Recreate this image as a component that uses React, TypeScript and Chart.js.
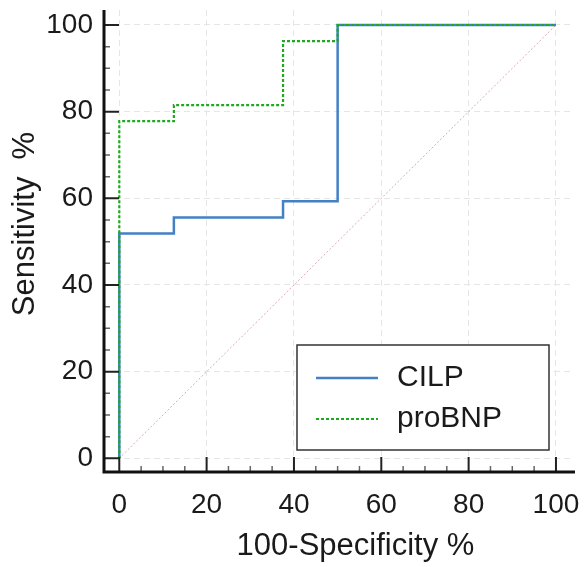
import React, { useEffect, useRef } from "react";
import { Chart, registerables } from "chart.js";

Chart.register(...registerables);

// ROC corner points (100-Specificity %, Sensitivity %)
const cilpX = [0, 0, 12.5, 12.5, 37.5, 37.5, 50, 50, 100];
const cilpY = [0, 51.9, 51.9, 55.6, 55.6, 59.3, 59.3, 100, 100];
const probnpX = [0, 0, 12.5, 12.5, 37.5, 37.5, 50, 50, 100];
const probnpY = [0, 77.8, 77.8, 81.5, 81.5, 96.3, 96.3, 100, 100];
const refX = [0, 100];
const refY = [0, 100];
const tickValues = [0, 20, 40, 60, 80, 100];
const minorStep = 5;
const seriesNames = ["CILP", "proBNP"];
const xTitle = "100-Specificity %";
const yTitle = "Sensitivity  %";

const FONT = "'Liberation Sans', Arial, Helvetica, sans-serif";
const TEXT = "#1a1a1a";

const toPoints = (xs: number[], ys: number[]) => xs.map((x, i) => ({ x, y: ys[i] }));

const axesPlugin = {
  id: "rocAxes",
  afterDraw(chart: any) {
    const { ctx, chartArea, scales } = chart;
    const xs = scales.x;
    const ys = scales.y;
    const left = chartArea.left;
    const bottom = chartArea.bottom;
    ctx.save();
    // ticks (inward)
    for (let v = 0; v <= 100; v += minorStep) {
      const major = v % 20 === 0;
      const len = major ? 15 : 6;
      ctx.beginPath();
      ctx.lineWidth = major ? 2 : 1.5;
      ctx.strokeStyle = major ? "#222" : "#666";
      const px = xs.getPixelForValue(v);
      ctx.moveTo(px, bottom);
      ctx.lineTo(px, bottom - len);
      const py = ys.getPixelForValue(v);
      ctx.moveTo(left, py);
      ctx.lineTo(left + len, py);
      ctx.stroke();
    }
    // axis lines
    ctx.beginPath();
    ctx.lineWidth = 3;
    ctx.strokeStyle = "#111";
    ctx.moveTo(left, chartArea.top);
    ctx.lineTo(left, bottom);
    ctx.lineTo(chartArea.right + 2, bottom);
    ctx.stroke();

    // axis titles
    ctx.fillStyle = TEXT;
    ctx.font = `31px ${FONT}`;
    ctx.textAlign = "center";
    ctx.textBaseline = "middle";
    const cx = (chartArea.left + chartArea.right) / 2 + 17;
    ctx.fillText(xTitle, cx, 546);
    const cy = (chartArea.top + chartArea.bottom) / 2 - 17;
    ctx.translate(25, cy);
    ctx.rotate(-Math.PI / 2);
    ctx.fillText(yTitle, 0, 0);
    ctx.restore();
  },
};

const legendPlugin = {
  id: "rocLegend",
  afterDraw(chart: any) {
    const { ctx, chartArea } = chart;
    const w = 252;
    const h = 105;
    const x0 = chartArea.right - 24 - w;
    const y0 = chartArea.bottom - 22 - h;
    ctx.save();
    ctx.fillStyle = "#ffffff";
    ctx.fillRect(x0, y0, w, h);
    ctx.lineWidth = 1.5;
    ctx.strokeStyle = "#333";
    ctx.strokeRect(x0, y0, w, h);
    const rows = [33, 74];
    seriesNames.forEach((name, i) => {
      const ds = chart.data.datasets[i];
      const ry = y0 + rows[i];
      ctx.beginPath();
      ctx.lineWidth = ds.borderWidth;
      ctx.strokeStyle = ds.borderColor;
      ctx.setLineDash(ds.borderDash || []);
      ctx.moveTo(x0 + 19, ry);
      ctx.lineTo(x0 + 81, ry);
      ctx.stroke();
      ctx.setLineDash([]);
      ctx.fillStyle = TEXT;
      ctx.font = `30px ${FONT}`;
      ctx.textBaseline = "middle";
      ctx.textAlign = "left";
      ctx.fillText(name, x0 + 100, ry);
    });
    ctx.restore();
  },
};

const fixTicks = (scale: any) => {
  scale.ticks = tickValues.map((v) => ({ value: v }));
};

export default function App() {
  const canvasRef = useRef<HTMLCanvasElement | null>(null);

  useEffect(() => {
    if (!canvasRef.current) return;
    const chart = new Chart(canvasRef.current, {
      type: "scatter",
      data: {
        datasets: [
          {
            label: seriesNames[0],
            data: toPoints(cilpX, cilpY),
            showLine: true,
            borderColor: "#4380c4",
            borderWidth: 2.5,
            pointRadius: 0,
            order: 1,
          },
          {
            label: seriesNames[1],
            data: toPoints(probnpX, probnpY),
            showLine: true,
            borderColor: "#1eaa1e",
            borderWidth: 2.2,
            borderDash: [3, 2],
            pointRadius: 0,
            order: 0,
          },
          {
            label: "reference",
            data: toPoints(refX, refY),
            showLine: true,
            borderColor: "#d8aab2",
            borderWidth: 1,
            borderDash: [2, 2],
            pointRadius: 0,
            order: 2,
          },
        ],
      } as any,
      options: {
        responsive: false,
        maintainAspectRatio: false,
        animation: false,
        layout: { padding: { top: 10, right: 12, left: 0, bottom: 0 } },
        plugins: {
          legend: { display: false },
          tooltip: { enabled: false },
        },
        scales: {
          x: {
            type: "linear",
            min: -3.5,
            max: 103.9,
            afterBuildTicks: fixTicks,
            afterFit: (s: any) => {
              s.height = 95;
              s.paddingLeft = 0;
              s.paddingRight = 0;
            },
            grid: {
              color: "#e6e6e6",
              lineWidth: 1,
              drawTicks: false,
            },
            border: { display: false, dash: [6, 4] },
            ticks: {
              color: TEXT,
              padding: 16,
              font: { family: FONT, size: 28 },
              maxRotation: 0,
              autoSkip: false,
            },
            title: { display: false },
          },
          y: {
            type: "linear",
            min: -3.16,
            max: 103.46,
            afterBuildTicks: fixTicks,
            afterFit: (s: any) => {
              s.width = 104;
              s.paddingTop = 0;
              s.paddingBottom = 0;
            },
            grid: {
              color: "#e6e6e6",
              lineWidth: 1,
              drawTicks: false,
            },
            border: { display: false, dash: [6, 4] },
            ticks: {
              color: TEXT,
              padding: 11,
              font: { family: FONT, size: 28 },
              autoSkip: false,
            },
            title: { display: false },
          },
        },
      } as any,
      plugins: [axesPlugin, legendPlugin],
    });
    return () => chart.destroy();
  }, []);

  return (
    <div style={{ position: "absolute", left: 0, top: 0, width: 585, height: 567, background: "#fff" }}>
      <canvas ref={canvasRef} width={585} height={567} style={{ width: 585, height: 567, display: "block" }} />
    </div>
  );
}
